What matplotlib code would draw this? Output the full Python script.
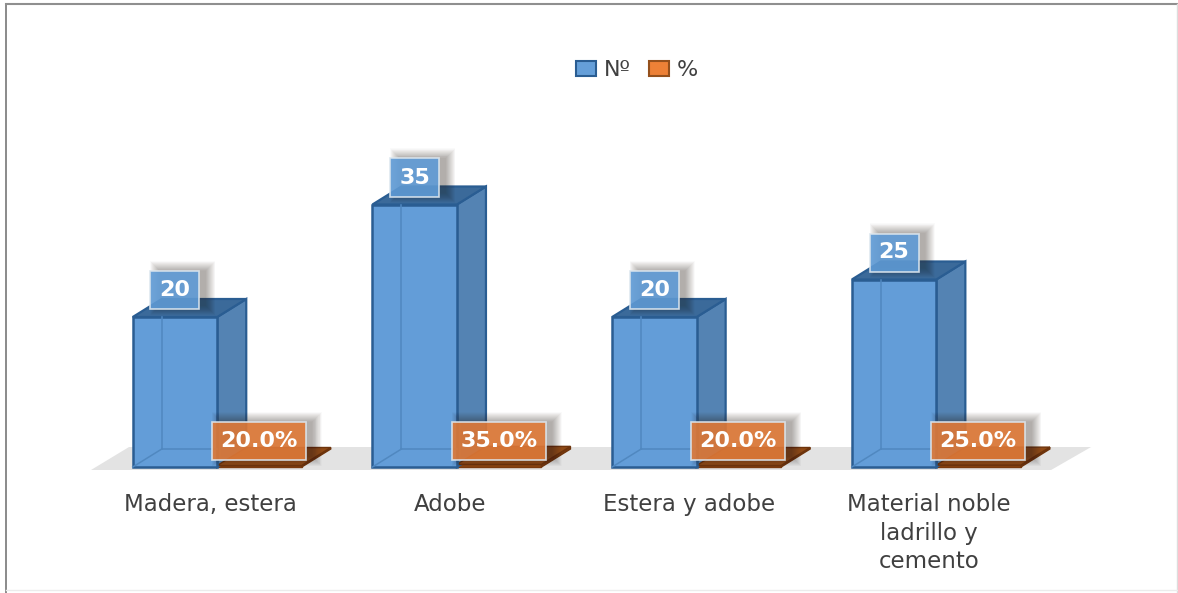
import numpy as np
import matplotlib
matplotlib.use("Agg")
import matplotlib.pyplot as plt
from matplotlib.lines import Line2D
from matplotlib.patches import Patch, Polygon, Rectangle

categories = ["Madera, estera", "Adobe", "Estera y adobe", "Material noble\nladrillo y\ncemento"]
counts = [20, 35, 20, 25]
percents = [0.20, 0.35, 0.20, 0.25]

plt.rcParams["font.family"] = ["DejaVu Sans"]

# pixel scale of the plot
W, H = 1178, 593
X0, STEP = 175.0, 239.7
BASE, UNIT = 467.0, 7.5
FLOOR_PAD = 5.0
BAR_W = 84.5 / STEP
DX, DY = 29.0 / STEP, 18.0 / UNIT
LIM_B = -FLOOR_PAD / UNIT


def px(n):
    return n / STEP


def py(n):
    return n / UNIT


def box3d(ax, xc, h, side, top, edge, lw=1.6):
    x0, x1 = xc - BAR_W / 2, xc + BAR_W / 2
    ax.add_patch(Polygon([(x1, 0), (x1 + DX, DY), (x1 + DX, h + DY), (x1, h)],
                         fc=side, ec=edge, lw=lw, zorder=3))
    ax.add_patch(Polygon([(x0, h), (x1, h), (x1 + DX, h + DY), (x0 + DX, h + DY)],
                         fc=top, ec=edge, lw=lw, zorder=3))


def soft_shadow(ax, xc, yc, w, h, color="#2b2118"):
    # stacked see-through boxes give a soft edge, offset to the right
    for grow in range(16, -4, -1):
        ww, hh = px(w + grow), py(h + grow)
        ax.add_patch(Rectangle((xc + px(8) - ww / 2, yc + py(2) - hh / 2), ww, hh,
                               fc=color, ec="none", alpha=0.018, zorder=5))


def value_label(ax, xc, yc, w, h, text, color, size):
    soft_shadow(ax, xc, yc, w, h)
    ww, hh = px(w), py(h)
    ax.add_patch(Rectangle((xc - ww / 2, yc - hh / 2), ww, hh, fc=color, ec="#dce6ee",
                           lw=1.2, alpha=0.9, zorder=6))
    ax.text(xc, yc, text, ha="center", va="center", color="white",
            fontsize=size, fontweight="bold", zorder=7)


fig = plt.figure(figsize=(W / 100, H / 100), dpi=100, facecolor="white")
ax = fig.add_axes([0, (H - BASE - FLOOR_PAD) / H, 1, (BASE + FLOOR_PAD) / H])
ax.set_xlim(-X0 / STEP, (W - X0) / STEP)
ax.set_ylim(LIM_B, BASE / UNIT)
for s in ax.spines.values():
    s.set_visible(False)
ax.patch.set_visible(False)

x = np.arange(len(categories))

# floor
ax.add_patch(Polygon([(-px(84), py(-3)), (-px(46), py(20)), (x[-1] + px(197), py(20)), (x[-1] + px(157), py(-3))],
                     fc="#e3e3e3", ec="none", zorder=1))

# blue series
ax.bar(x, counts, BAR_W, color="#639dd8", edgecolor="#2a5d92", linewidth=1.8, zorder=4)
for xc, v in zip(x, counts):
    box3d(ax, xc, v, "#5483b3", "#3b6a9a", "#2a5d92")
    x0 = xc - BAR_W / 2 + DX
    ax.plot([x0, x0], [DY, v], color="#5088c0", lw=1.1, zorder=5)
    ax.plot([x0, xc + BAR_W / 2], [DY, DY], color="#5088c0", lw=1.1, zorder=5)
    ax.plot([xc - BAR_W / 2, x0], [0, DY], color="#5088c0", lw=1.1, zorder=5)

# orange series, almost flat on the same scale
ax.bar(x + BAR_W, percents, BAR_W, color="#8a4412", edgecolor="#7a3a0e", linewidth=1.0, zorder=2)
for xc, v in zip(x + BAR_W, percents):
    box3d(ax, xc, v, "#7a3a0e", "#8f4a16", "#6e340c", lw=1.0)

for xc, v, p in zip(x, counts, percents):
    value_label(ax, xc, v + py(27), 49, 38, str(v), "#5f9bd6", 16)
    value_label(ax, xc + px(84), py(26), 94, 38, f"{p * 100:.1f}%", "#e07a38", 16)

ax.set_yticks([])
ax.set_xticks(x + px(35))
ax.set_xticklabels(categories, fontsize=16.5, color="#404040", linespacing=1.32)
ax.tick_params(axis="x", length=0, pad=15)

fig.legend([Patch(fc="#659fd9", ec="#2a5d92", lw=1.5), Patch(fc="#ed8137", ec="#94501c", lw=1.5)],
           ["Nº", "%"], ncols=2, loc="center", bbox_to_anchor=(637 / W, 1 - 70 / H), frameon=False,
           fontsize=16, handlelength=0.87, handleheight=0.67, handletextpad=0.35, columnspacing=0.85,
           labelcolor="#404040")

# outer frame
for xs, ys, c, lw in [([6, 6], [4, H], "#8a8a8a", 1.4), ([6, W], [4, 4], "#8f8f8f", 1.5),
                      ([W - 1, W - 1], [4, H], "#dddddd", 1.0), ([6, W], [590, 590], "#ececec", 1.0)]:
    fig.add_artist(Line2D(np.array(xs) / W, 1 - np.array(ys) / H, color=c, lw=lw))

fig.savefig("out.png", dpi=100, facecolor="white")
